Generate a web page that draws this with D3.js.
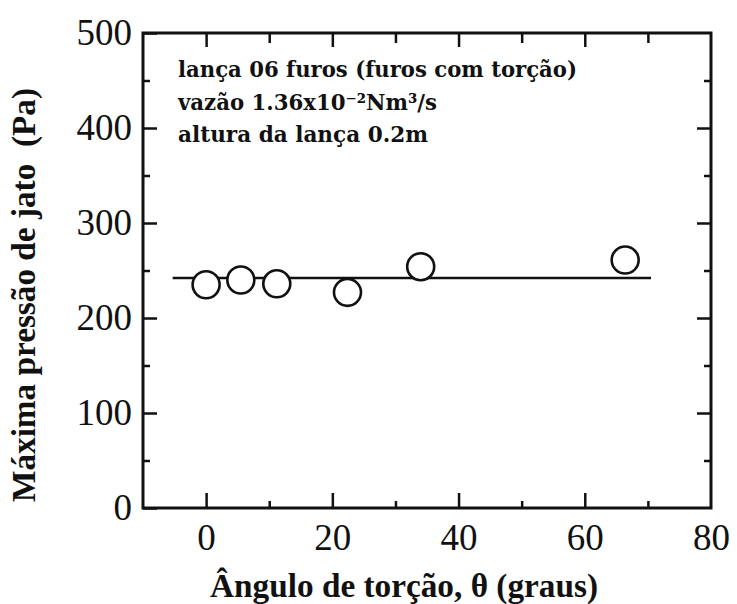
<!DOCTYPE html>
<html>
<head>
<meta charset="utf-8">
<script src="https://cdn.jsdelivr.net/npm/d3@7"></script>
<style>
  html, body { margin: 0; padding: 0; background: #fff; }
  svg { display: block; }
  text { font-family: "Liberation Serif", "Times New Roman", serif; fill: #111; }
  .note { font-family: "DejaVu Serif", "Liberation Serif", serif; font-weight: bold; }
</style>
</head>
<body>
<svg id="chart" width="737" height="604"></svg>
<script>
// Torsion angle of the holes (degrees) and maximum jet pressure (Pa)
const angles = [0, 5.5, 11.2, 22.4, 34, 66.4];
const pressures = [235, 240, 236, 227, 254, 261];

// Mean pressure line
const fitX = [-5.3, 70.5];
const fitY = [242, 242];

// Axis ticks
const xMajor = [0, 20, 40, 60, 80];
const xMinor = [-10, 10, 30, 50, 70];
const yMajor = [0, 100, 200, 300, 400, 500];
const yMinor = [50, 150, 250, 350, 450];

// Texts
const xTitle = "Ângulo de torção, θ (graus)";
const yTitle = "Máxima pressão de jato  (Pa)";
const notes = [
  "lança 06 furos (furos com torção)",
  "vazão 1.36x10⁻²Nm³/s",
  "altura da lança 0.2m"
];

const svg = d3.select("#chart");
const x = d3.scaleLinear().domain([-10, 80]).range([143, 711]);
const y = d3.scaleLinear().domain([0, 500]).range([508, 33]);

const W = 3;

function styleAxis(g) {
  g.select(".domain").remove();
  g.selectAll(".tick line").attr("stroke", "#111").attr("stroke-width", 2.5);
  g.selectAll(".tick text").style("font-size", "37px").attr("fill", "#111");
}

// bottom axis: labels + inward ticks
svg.append("g").attr("transform", `translate(0,${y(0)})`)
  .call(d3.axisBottom(x).tickValues(xMajor.filter(v => v < 80)).tickSize(-15).tickPadding(16).tickFormat(d3.format("d")))
  .call(styleAxis);
svg.append("g").attr("transform", `translate(0,${y(0)})`)
  .call(d3.axisBottom(x).tickValues([80]).tickSize(0).tickPadding(16).tickFormat(d3.format("d")))
  .call(styleAxis);
svg.append("g").attr("transform", `translate(0,${y(0)})`)
  .call(d3.axisBottom(x).tickValues(xMinor.filter(v => v > -10)).tickSize(-7).tickFormat(""))
  .call(styleAxis);

// top axis: ticks only
svg.append("g").attr("transform", `translate(0,${y(500)})`)
  .call(d3.axisTop(x).tickValues(xMajor.filter(v => v < 80)).tickSize(-14).tickFormat(""))
  .call(styleAxis);
svg.append("g").attr("transform", `translate(0,${y(500)})`)
  .call(d3.axisTop(x).tickValues(xMinor.filter(v => v > -10)).tickSize(-10).tickFormat(""))
  .call(styleAxis);

// left axis
svg.append("g").attr("transform", `translate(${x(-10)},0)`)
  .call(d3.axisLeft(y).tickValues(yMajor).tickSize(-14).tickPadding(11).tickFormat(d3.format("d")))
  .call(styleAxis);
svg.append("g").attr("transform", `translate(${x(-10)},0)`)
  .call(d3.axisLeft(y).tickValues(yMinor).tickSize(-7).tickFormat(""))
  .call(styleAxis);

// right axis: ticks only
svg.append("g").attr("transform", `translate(${x(80)},0)`)
  .call(d3.axisRight(y).tickValues(yMajor.filter(v => v > 0 && v < 500)).tickSize(-14).tickFormat(""))
  .call(styleAxis);
svg.append("g").attr("transform", `translate(${x(80)},0)`)
  .call(d3.axisRight(y).tickValues(yMinor).tickSize(-7).tickFormat(""))
  .call(styleAxis);

// frame
svg.append("rect")
  .attr("x", x(-10)).attr("y", y(500))
  .attr("width", x(80) - x(-10)).attr("height", y(0) - y(500))
  .attr("fill", "none").attr("stroke", "#111").attr("stroke-width", W);

// mean line
svg.append("path")
  .datum(fitX.map((v, i) => [v, fitY[i]]))
  .attr("d", d3.line().x(d => x(d[0])).y(d => y(d[1])))
  .attr("fill", "none").attr("stroke", "#111").attr("stroke-width", 2.5);

// data points
svg.append("g").selectAll("circle")
  .data(angles.map((a, i) => ({ a, p: pressures[i] })))
  .join("circle")
  .attr("cx", d => x(d.a)).attr("cy", d => y(d.p))
  .attr("r", 13.5)
  .attr("fill", "#fff").attr("stroke", "#111").attr("stroke-width", 2.6);

// annotations
const noteY = [77, 110, 142];
const noteLen = [399, 259, 250];
svg.append("g").selectAll("text")
  .data(notes)
  .join("text")
  .attr("class", "note")
  .attr("x", 178)
  .attr("y", (d, i) => noteY[i])
  .attr("textLength", (d, i) => noteLen[i])
  .attr("lengthAdjust", "spacingAndGlyphs")
  .style("font-size", "22px")
  .text(d => d);

// axis titles
svg.append("text").attr("x", 210).attr("y", 597)
  .attr("textLength", 388).attr("lengthAdjust", "spacingAndGlyphs")
  .style("font-size", "34px").style("font-weight", "bold")
  .text(xTitle);

svg.append("text")
  .attr("transform", "translate(35,502) rotate(-90)")
  .attr("textLength", 414).attr("lengthAdjust", "spacingAndGlyphs")
  .style("font-size", "33px").style("font-weight", "bold")
  .style("white-space", "pre")
  .text(yTitle);
</script>
</body>
</html>
